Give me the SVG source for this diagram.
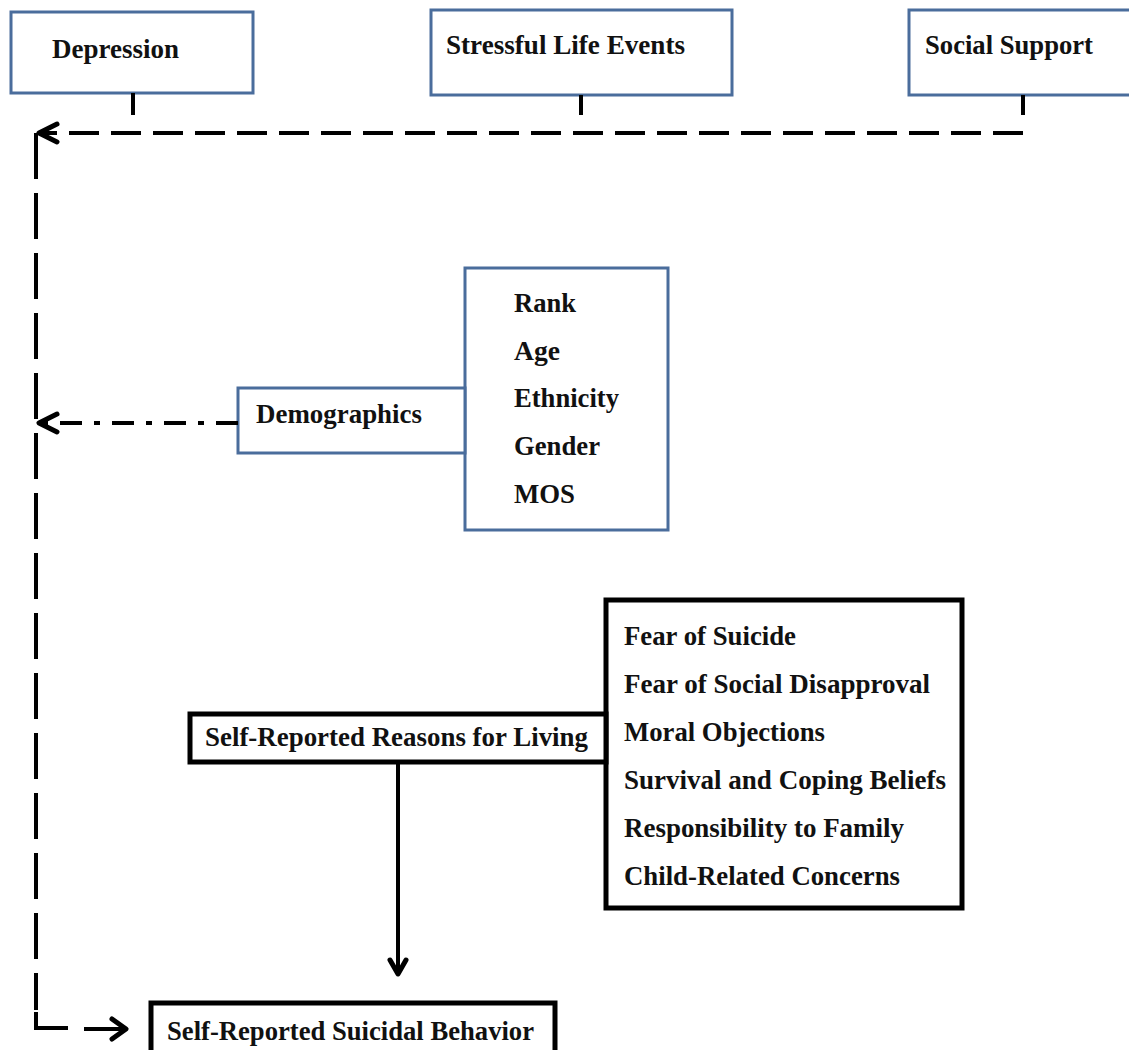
<svg xmlns="http://www.w3.org/2000/svg" width="1129" height="1050" viewBox="0 0 1129 1050">
<style>
  .bbox{fill:#fff;stroke:#4a6d9c;stroke-width:3}
  .kbox{fill:#fff;stroke:#000;stroke-width:5}
  .t{font-family:'Liberation Serif',Tinos,'Times New Roman',Times,serif;font-weight:700;font-size:27.5px;fill:#111}
  .ln{fill:none;stroke:#000;stroke-width:4}
  .dash{fill:none;stroke:#000;stroke-width:4;stroke-dasharray:30 12}
  .vdash{fill:none;stroke:#000;stroke-width:4;stroke-dasharray:46 14}
  .dashdot{fill:none;stroke:#000;stroke-width:4;stroke-dasharray:22 12 6 12}
  .head{fill:none;stroke:#000;stroke-width:5;stroke-linecap:round;stroke-linejoin:round}
</style>
<rect width="1129" height="1050" fill="#fff"/>
<g id="depression">
  <rect class="bbox" x="11" y="12" width="242" height="81"/>
  <text class="t" x="52" y="58" textLength="127" lengthAdjust="spacingAndGlyphs">Depression</text>
</g>
<g id="stressful">
  <rect class="bbox" x="431" y="10" width="301" height="85"/>
  <text class="t" x="446" y="54" textLength="239" lengthAdjust="spacingAndGlyphs">Stressful Life Events</text>
</g>
<g id="social">
  <rect class="bbox" x="909" y="10" width="225" height="85"/>
  <text class="t" x="925" y="54" textLength="168" lengthAdjust="spacingAndGlyphs">Social Support</text>
</g>
<g id="demo-list">
  <rect class="bbox" x="465" y="268" width="203" height="262"/>
  <text class="t" x="514" y="312" textLength="62" lengthAdjust="spacingAndGlyphs">Rank</text>
  <text class="t" x="514" y="360" textLength="46" lengthAdjust="spacingAndGlyphs">Age</text>
  <text class="t" x="514" y="407" textLength="105" lengthAdjust="spacingAndGlyphs">Ethnicity</text>
  <text class="t" x="514" y="455" textLength="86" lengthAdjust="spacingAndGlyphs">Gender</text>
  <text class="t" x="514" y="503" textLength="61" lengthAdjust="spacingAndGlyphs">MOS</text>
</g>
<g id="demographics">
  <rect class="bbox" x="238" y="388" width="227" height="65"/>
  <text class="t" x="256" y="423" textLength="166" lengthAdjust="spacingAndGlyphs">Demographics</text>
</g>
<g id="rfl-list">
  <rect class="kbox" x="606" y="600" width="356" height="308"/>
  <text class="t" x="624" y="645" textLength="172" lengthAdjust="spacingAndGlyphs">Fear of Suicide</text>
  <text class="t" x="624" y="693" textLength="306" lengthAdjust="spacingAndGlyphs">Fear of Social Disapproval</text>
  <text class="t" x="624" y="741" textLength="201" lengthAdjust="spacingAndGlyphs">Moral Objections</text>
  <text class="t" x="624" y="789" textLength="322" lengthAdjust="spacingAndGlyphs">Survival and Coping Beliefs</text>
  <text class="t" x="624" y="837" textLength="280" lengthAdjust="spacingAndGlyphs">Responsibility to Family</text>
  <text class="t" x="624" y="885" textLength="276" lengthAdjust="spacingAndGlyphs">Child-Related Concerns</text>
</g>
<g id="rfl">
  <rect class="kbox" x="190" y="714" width="416" height="48"/>
  <text class="t" x="205" y="746" textLength="383" lengthAdjust="spacingAndGlyphs">Self-Reported Reasons for Living</text>
</g>
<g id="behavior">
  <rect class="kbox" x="151" y="1003" width="404" height="60"/>
  <text class="t" x="167" y="1040" textLength="367" lengthAdjust="spacingAndGlyphs">Self-Reported Suicidal Behavior</text>
</g>
<g id="connectors">
  <line class="ln" x1="133" y1="93" x2="133" y2="115"/>
  <line class="ln" x1="581" y1="95" x2="581" y2="115"/>
  <line class="ln" x1="1023" y1="95" x2="1023" y2="115"/>
  <line class="dash" x1="1023" y1="133" x2="40" y2="133"/>
  <polyline class="head" points="57,124 39,133 57,142"/>
  <line class="vdash" x1="36" y1="133" x2="36" y2="1010"/>
  <polyline class="ln" points="36,1012 36,1028 68,1028"/>
  <line class="dashdot" x1="238" y1="423" x2="42" y2="423"/>
  <polyline class="head" points="57,414 39,423 57,432"/>
  <line class="ln" x1="84" y1="1029" x2="124" y2="1029"/>
  <polyline class="head" points="112,1019 126,1029 112,1039"/>
  <line class="ln" x1="398" y1="762" x2="398" y2="972"/>
  <polyline class="head" points="390,960 398,974 406,960"/>
</g>
</svg>
